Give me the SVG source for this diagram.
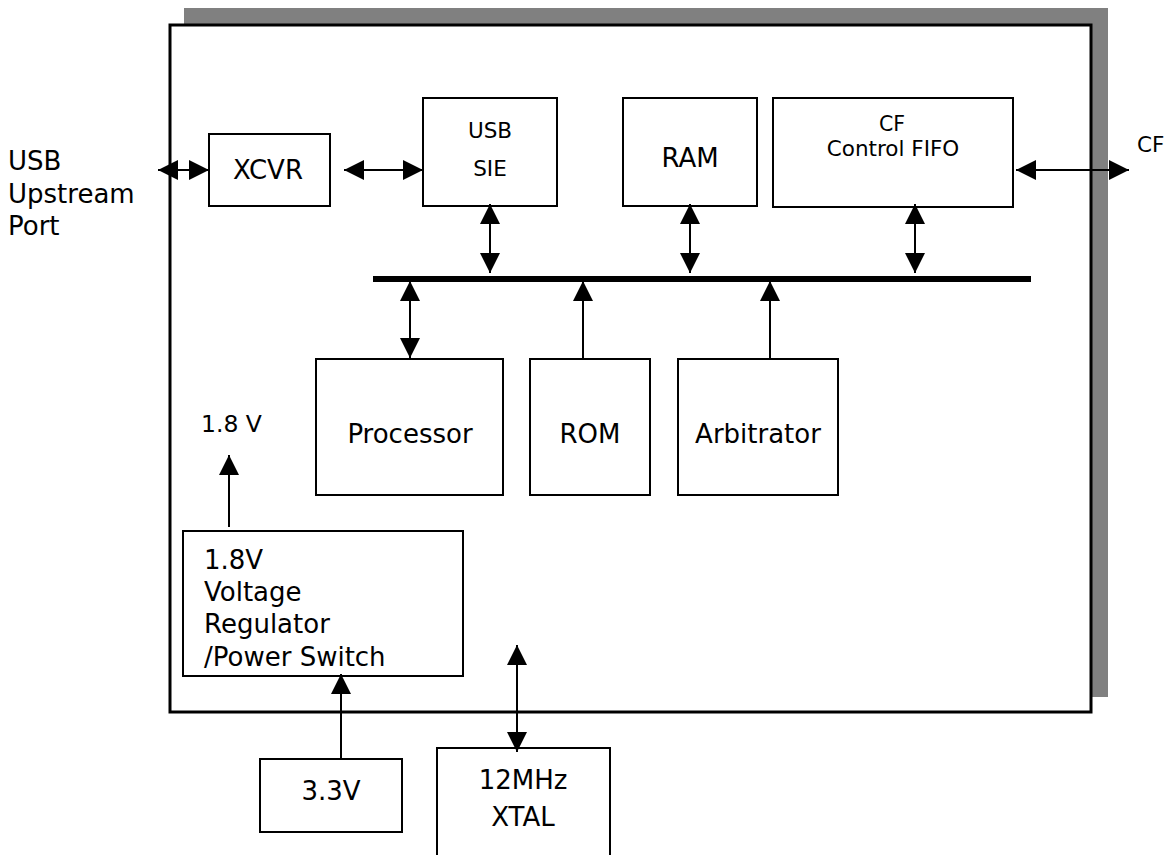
<svg xmlns="http://www.w3.org/2000/svg" width="1169" height="855" viewBox="0 0 1169 855">
<style>
.box{fill:#fff;stroke:#000;stroke-width:2}
.t{font-family:"DejaVu Sans",Verdana,sans-serif;font-size:26px;fill:#000}
.s{font-family:"DejaVu Sans",Verdana,sans-serif;font-size:21.5px;fill:#000}
.c{text-anchor:middle}
.ln{stroke:#000;stroke-width:2;fill:none}
.a2{marker-start:url(#ah);marker-end:url(#ah)}
.a1{marker-end:url(#ah)}
</style>
<defs>
<marker id="ah" markerUnits="userSpaceOnUse" markerWidth="20" markerHeight="20" refX="20" refY="10" orient="auto-start-reverse" viewBox="0 0 20 20">
<path d="M0,0 L20,10 L0,20 z" fill="#000"/>
</marker>
</defs>
<rect id="shadow" x="184" y="8" width="924" height="689" fill="#808080"/>
<g id="chip"><rect x="170" y="25" width="921" height="687" fill="#fff" stroke="#000" stroke-width="3"/></g>
<g id="usb-port"><text class="t" x="8" y="170">USB</text><text class="t" x="8" y="203">Upstream</text><text class="t" x="8" y="235">Port</text></g>
<g id="xcvr"><rect class="box" x="209" y="134" width="121" height="72"/><text class="t c" x="268" y="179">XCVR</text></g>
<g id="sie"><rect class="box" x="423" y="98" width="134" height="108"/><text class="s c" x="490" y="138">USB</text><text class="s c" x="490" y="176">SIE</text></g>
<g id="ram"><rect class="box" x="623" y="98" width="134" height="108"/><text class="t c" x="690" y="167">RAM</text></g>
<g id="cffifo"><rect class="box" x="773" y="98" width="240" height="109"/><text class="s c" x="892" y="131" style="font-size:20.5px">CF</text><text class="s c" x="893" y="156">Control FIFO</text></g>
<g id="cf-label"><text class="s" x="1137" y="152">CF</text></g>
<g id="processor"><rect class="box" x="316" y="359" width="187" height="136"/><text class="t c" x="410" y="443">Processor</text></g>
<g id="rom"><rect class="box" x="530" y="359" width="120" height="136"/><text class="t c" x="590" y="443">ROM</text></g>
<g id="arbitrator"><rect class="box" x="678" y="359" width="160" height="136"/><text class="t c" x="758" y="443">Arbitrator</text></g>
<g id="v18-label"><text class="t" x="201" y="432" style="font-size:23.5px">1.8 V</text></g>
<g id="regulator"><rect class="box" x="183" y="531" width="280" height="145"/><text class="t" x="204" y="569">1.8V</text><text class="t" x="204" y="601">Voltage</text><text class="t" x="204" y="633">Regulator</text><text class="t" x="204" y="666">/Power Switch</text></g>
<g id="v33"><rect class="box" x="260" y="759" width="142" height="73"/><text class="t c" x="331" y="800">3.3V</text></g>
<g id="xtal"><rect class="box" x="437" y="748" width="173" height="120"/><text class="t c" x="523" y="789">12MHz</text><text class="t c" x="523" y="826">XTAL</text></g>
<g id="connectors">
<line x1="373" y1="279" x2="1031" y2="279" stroke="#000" stroke-width="6"/>
<line class="ln a2" x1="158" y1="170" x2="209" y2="170"/>
<line class="ln a2" x1="344" y1="170" x2="423" y2="170"/>
<line class="ln a2" x1="1016" y1="170" x2="1129" y2="170"/>
<line class="ln a2" x1="490" y1="204" x2="490" y2="273"/>
<line class="ln a2" x1="690" y1="204" x2="690" y2="273"/>
<line class="ln a2" x1="915" y1="204" x2="915" y2="273"/>
<line class="ln a2" x1="410" y1="358" x2="410" y2="281"/>
<line class="ln a1" x1="583" y1="359" x2="583" y2="281"/>
<line class="ln a1" x1="770" y1="359" x2="770" y2="281"/>
<line class="ln a1" x1="229" y1="527" x2="229" y2="455"/>
<line class="ln a1" x1="341" y1="759" x2="341" y2="674"/>
<line class="ln a2" x1="517" y1="645" x2="517" y2="752"/>
</g>
</svg>
